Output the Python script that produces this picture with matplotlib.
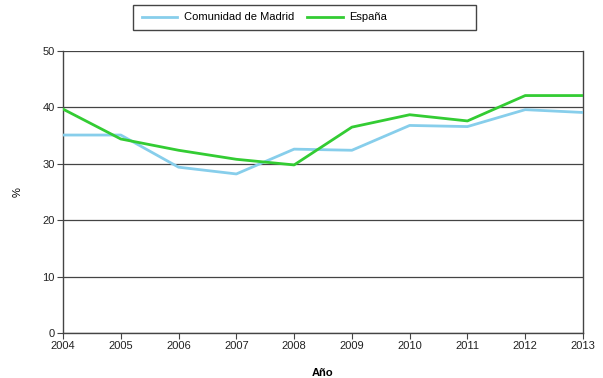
import matplotlib
matplotlib.use("Agg")
import matplotlib.pyplot as plt
from matplotlib.patches import Rectangle

years = [2004, 2005, 2006, 2007, 2008, 2009, 2010, 2011, 2012, 2013]
madrid = [35.1, 35.1, 29.4, 28.2, 32.6, 32.4, 36.8, 36.6, 39.6, 39.1]
espana = [39.7, 34.4, 32.4, 30.8, 29.8, 36.5, 38.7, 37.6, 42.1, 42.1]
yticks = [0, 10, 20, 30, 40, 50]

plt.rcParams['font.family'] = ['Liberation Sans', 'DejaVu Sans']
plt.rcParams['font.size'] = 8

fig = plt.figure(figsize=(6.03, 3.78), dpi=100)
ax = fig.add_axes([63/603, 45/378, 520/603, 282/378])

ax.plot(years, madrid, color='#87ceeb', linewidth=2, label='Comunidad de Madrid', zorder=3)
ax.plot(years, espana, color='#33cc33', linewidth=2, label='España', zorder=3)

ax.set_xlim(2004, 2013)
ax.set_ylim(0, 50)
ax.set_xticks(years)
ax.set_yticks(yticks)
ax.grid(axis='y', color='#444444', linewidth=0.9)
ax.set_axisbelow(True)
for side in ['left', 'right', 'bottom']:
    ax.spines[side].set_color('#444444')
    ax.spines[side].set_linewidth(1)
ax.spines['top'].set_visible(False)
ax.tick_params(axis='both', direction='out', length=4, width=0.8, color='#444444',
               labelsize=8, labelcolor='#222222', pad=2)

ax.set_xlabel('Año', fontweight='bold', fontsize=8, labelpad=12)
ax.set_ylabel('%', fontsize=8, labelpad=14)

# legend box is wider than its entries, so draw the frame separately
fig.patches.append(Rectangle((133/603, 1 - 30/378), 343/603, 25/378,
                             transform=fig.transFigure, fill=False,
                             edgecolor='#444444', linewidth=1))
fig.legend(loc='center left', bbox_to_anchor=(136/603, 1 - 17.5/378), ncol=2,
           frameon=False, fontsize=8, handlelength=3.2, columnspacing=1.2,
           handletextpad=0.6, borderpad=0)

plt.savefig('out.png', dpi=100)
